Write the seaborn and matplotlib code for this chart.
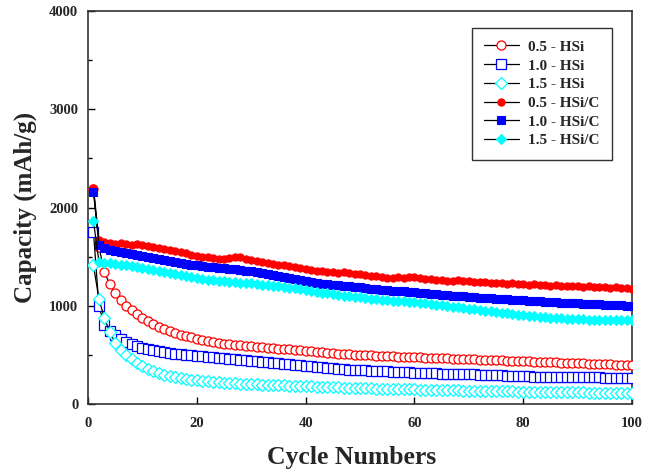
import matplotlib
matplotlib.use("Agg")
import matplotlib.pyplot as plt
from matplotlib.ticker import MultipleLocator
import seaborn as sns
import pandas as pd

cycles = list(range(1, 101))

hsi_05 = [2190, 1600, 1345, 1220, 1130, 1060, 1000, 960, 920, 880,
          840, 810, 780, 760, 740, 720, 700, 690, 680, 665,
          655, 645, 635, 625, 615, 610, 605, 600, 595, 590,
          585, 580, 575, 570, 565, 560, 555, 550, 545, 540,
          535, 530, 525, 520, 515, 512, 508, 505, 502, 500,
          497, 494, 491, 488, 486, 484, 482, 480, 478, 476,
          474, 472, 470, 468, 466, 464, 462, 460, 458, 456,
          454, 452, 450, 448, 446, 444, 442, 440, 438, 436,
          434, 432, 430, 428, 426, 424, 422, 420, 418, 416,
          414, 412, 410, 408, 406, 404, 402, 400, 398, 396]

hsi_10 = [1750, 1000, 800, 740, 700, 660, 630, 610, 590, 575,
          560, 550, 540, 530, 520, 510, 505, 500, 495, 490,
          485, 480, 475, 470, 465, 460, 455, 450, 445, 440,
          435, 430, 425, 420, 415, 410, 405, 400, 395, 390,
          385, 380, 375, 370, 365, 360, 355, 350, 348, 345,
          342, 340, 337, 335, 332, 330, 327, 325, 322, 320,
          318, 316, 314, 312, 310, 308, 306, 305, 304, 303,
          302, 300, 298, 296, 294, 292, 290, 288, 286, 284,
          282, 280, 278, 277, 276, 275, 274, 274, 273, 273,
          272, 272, 271, 271, 270, 270, 270, 270, 270, 270]

hsi_15 = [1410, 1070, 875, 735, 620, 550, 500, 460, 420, 390,
          360, 335, 315, 300, 285, 275, 265, 255, 248, 240,
          235, 230, 225, 220, 216, 213, 210, 207, 205, 202,
          200, 198, 196, 194, 192, 190, 188, 186, 184, 182,
          180, 178, 176, 174, 172, 170, 168, 166, 165, 164,
          162, 160, 158, 156, 155, 154, 152, 150, 149, 148,
          146, 145, 144, 142, 141, 140, 139, 138, 137, 136,
          135, 134, 133, 132, 131, 130, 129, 128, 127, 126,
          125, 124, 123, 122, 121, 120, 120, 119, 119, 118,
          118, 117, 117, 116, 116, 116, 115, 115, 115, 115]

hsic_05 = [2200, 1670, 1650, 1640, 1630, 1640, 1630, 1620, 1630, 1620,
           1610, 1600, 1590, 1580, 1570, 1560, 1550, 1540, 1520, 1510,
           1500, 1500, 1490, 1480, 1480, 1490, 1500, 1500, 1480, 1470,
           1460, 1450, 1440, 1430, 1420, 1410, 1400, 1390, 1380, 1370,
           1360, 1350, 1350, 1340, 1340, 1330, 1340, 1330, 1320, 1320,
           1310, 1300, 1300, 1290, 1280, 1280, 1290, 1280, 1290, 1290,
           1280, 1270, 1270, 1260, 1260, 1250, 1250, 1260, 1250, 1250,
           1240, 1240, 1240, 1230, 1230, 1230, 1220, 1230, 1220, 1220,
           1210, 1220, 1210, 1210, 1200, 1210, 1200, 1200, 1200, 1200,
           1190, 1200, 1190, 1190, 1190, 1180, 1190, 1180, 1180, 1170]

hsic_10 = [2160, 1620, 1590, 1570, 1560, 1550, 1540, 1530, 1520, 1510,
           1500, 1490, 1480, 1470, 1460, 1450, 1440, 1430, 1420, 1410,
           1400, 1390, 1390, 1380, 1380, 1370, 1370, 1360, 1350, 1350,
           1340, 1330, 1320, 1310, 1300, 1290, 1280, 1270, 1260, 1250,
           1240, 1230, 1220, 1220, 1210, 1210, 1200, 1200, 1190, 1190,
           1180, 1170, 1170, 1160, 1160, 1150, 1150, 1150, 1140, 1140,
           1130, 1130, 1120, 1120, 1110, 1110, 1100, 1100, 1100, 1090,
           1090, 1080, 1080, 1080, 1070, 1070, 1070, 1060, 1060, 1060,
           1050, 1050, 1050, 1040, 1040, 1040, 1030, 1030, 1030, 1030,
           1020, 1020, 1020, 1020, 1010, 1010, 1010, 1010, 1000, 1000]

hsic_15 = [1860, 1450, 1440, 1440, 1430, 1420, 1410, 1400, 1390, 1380,
           1370, 1360, 1350, 1340, 1330, 1320, 1310, 1300, 1290, 1280,
           1270, 1260, 1260, 1250, 1250, 1240, 1240, 1230, 1230, 1230,
           1220, 1210, 1210, 1200, 1200, 1190, 1180, 1180, 1170, 1160,
           1150, 1140, 1130, 1130, 1120, 1110, 1100, 1100, 1090, 1090,
           1080, 1070, 1070, 1060, 1060, 1050, 1050, 1050, 1040, 1040,
           1030, 1030, 1020, 1010, 1010, 1000, 990, 990, 980, 970,
           970, 960, 950, 950, 940, 930, 930, 920, 910, 910,
           900, 900, 890, 890, 880, 880, 880, 870, 870, 870,
           870, 860, 860, 860, 860, 860, 860, 860, 860, 860]

labels = ["0.5 - HSi", "1.0 - HSi", "1.5 - HSi",
          "0.5 - HSi/C", "1.0 - HSi/C", "1.5 - HSi/C"]
series = [hsi_05, hsi_10, hsi_15, hsic_05, hsic_10, hsic_15]
colors = ["#ff0000", "#0000ff", "#00ffff", "#ff0000", "#0000ff", "#00ffff"]
markers = ["o", "s", "D", "o", "s", "D"]
filled = [False, False, False, True, True, True]

sns.set_theme(style="white")
plt.rcParams["font.family"] = ["Liberation Serif", "DejaVu Serif"]
plt.rcParams["font.weight"] = "bold"

fig = plt.figure(figsize=(6.55, 4.72), dpi=100)
ax = fig.add_axes([0.1344, 0.144, 0.8306, 0.8327])

for lab, vals, col, mk, fl in zip(labels, series, colors, markers, filled):
    df = pd.DataFrame({"cycle": cycles, "cap": vals})
    if fl:
        kw = dict(markerfacecolor=col, markeredgecolor=col, markersize=5.2,
                  markeredgewidth=0.8, zorder=4)
    else:
        kw = dict(markerfacecolor="white", markeredgecolor=col, markersize=6.5,
                  markeredgewidth=0.9, zorder=3)
    sns.lineplot(data=df, x="cycle", y="cap", ax=ax, color="black",
                 linewidth=0.9, marker=mk, label=lab, **kw)

ax.set_xlim(0, 100)
ax.set_ylim(0, 4000)
ax.xaxis.set_major_locator(MultipleLocator(20))
ax.yaxis.set_major_locator(MultipleLocator(1000))
ax.yaxis.set_minor_locator(MultipleLocator(500))
ax.tick_params(axis="both", which="major", direction="in", length=5,
               width=1, color="black", labelsize=10.5, bottom=True, left=True)
ax.tick_params(axis="x", pad=9)
ax.tick_params(axis="y", pad=7)
ax.tick_params(axis="y", which="minor", direction="in", length=3, width=1,
               color="black", left=True)
for lbl in ax.get_xticklabels() + ax.get_yticklabels():
    lbl.set_fontweight("bold")

for sp in ax.spines.values():
    sp.set_color("#333333")
    sp.set_linewidth(1.2)

ax.set_xlabel("Cycle Numbers", fontsize=18.5, fontweight="bold")
ax.xaxis.set_label_coords(0.485, -0.137, transform=ax.transAxes)
ax.xaxis.label.set_verticalalignment("center")
ax.set_ylabel("Capacity (mAh/g)", fontsize=18, fontweight="bold", labelpad=9)

leg = ax.legend(loc="upper right", bbox_to_anchor=(0.963, 0.957),
                borderaxespad=0, frameon=True, fancybox=False,
                prop={"family": ["Liberation Serif"], "weight": "bold", "size": 11},
                handlelength=2.3, handletextpad=0.6, labelspacing=0.33,
                borderpad=0.8, edgecolor="black")
leg.get_frame().set_linewidth(1.0)

fig.savefig("out.png", dpi=100)
